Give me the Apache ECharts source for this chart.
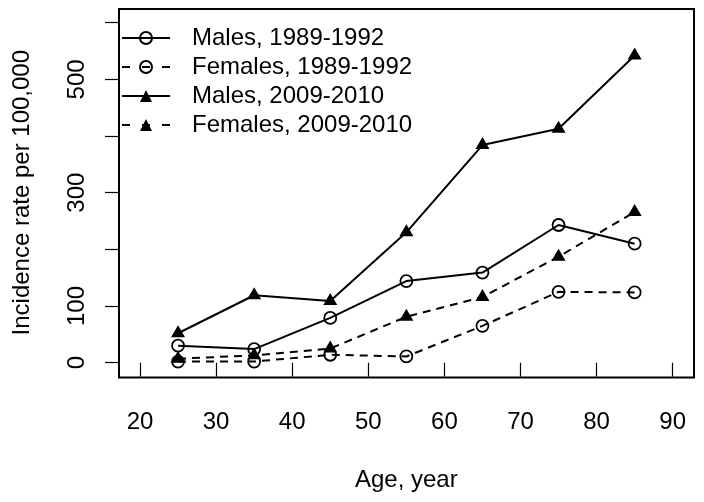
<!DOCTYPE html>
<html>
<head>
<meta charset="utf-8">
<script src="https://cdn.jsdelivr.net/npm/echarts@6/dist/echarts.min.js"></script>
<style>
html,body{margin:0;padding:0;background:#fff;}
#chart{width:704px;height:502px;}
</style>
</head>
<body>
<div id="chart"></div>
<script>
const ages = [25, 35, 45, 55, 65, 75, 85];
const males1989 = [30, 24, 79, 144, 159, 243, 210];
const females1989 = [2, 2, 14, 11, 65, 125, 124];
const males2009 = [52, 119, 109, 230, 384, 413, 542];
const females2009 = [7, 13, 25, 81, 116, 187, 266];
const seriesNames = ['Males, 1989-1992', 'Females, 1989-1992', 'Males, 2009-2010', 'Females, 2009-2010'];
const xTicks = [20, 30, 40, 50, 60, 70, 80, 90];
const yLabels = [0, 100, 300, 500];

const FONT = '"Liberation Sans", Arial, Helvetica, sans-serif';
const pairs = arr => ages.map((a, i) => [a, arr[i]]);

function mkSeries(name, values, isTriangle, dashed) {
  return {
    name: name,
    type: 'line',
    xAxisIndex: 0,
    yAxisIndex: 0,
    data: pairs(values),
    clip: false,
    symbol: isTriangle ? 'triangle' : 'circle',
    symbolSize: isTriangle ? [14, 12] : 12,
    symbolOffset: isTriangle ? [0, -2] : [0, 0],
    lineStyle: { color: '#000', width: 2, type: dashed ? [8, 6] : 'solid' },
    itemStyle: isTriangle
      ? { color: '#000', borderWidth: 0 }
      : { color: 'transparent', borderColor: '#000', borderWidth: 1.8 },
    emphasis: { disabled: true },
    animation: false
  };
}

const legendItem = (name, dashed) => ({
  name: name,
  lineStyle: { color: '#000', width: 2, type: dashed ? [8, 12] : 'solid' }
});

const chart = echarts.init(document.getElementById('chart'), null, { renderer: 'canvas' });
chart.setOption({
  backgroundColor: '#fff',
  animation: false,
  textStyle: { fontFamily: FONT, color: '#000' },
  grid: [
    { left: 140, right: 31.3, top: 22.7, bottom: 139.3, containLabel: false },
    { left: 119, right: 10, top: 9, bottom: 124.5, show: true, borderColor: '#000', borderWidth: 2, backgroundColor: 'transparent', z: 10 }
  ],
  legend: {
    orient: 'vertical',
    left: 116,
    top: 21,
    itemWidth: 48,
    itemHeight: 15,
    itemGap: 5,
    data: [
      legendItem(seriesNames[0], false),
      legendItem(seriesNames[1], true),
      legendItem(seriesNames[2], false),
      legendItem(seriesNames[3], true)
    ],
    textStyle: { fontFamily: FONT, fontSize: 24, color: '#000', padding: [0, 0, 0, 17] },
    selectedMode: false
  },
  xAxis: [
    {
      type: 'value', gridIndex: 0, min: 20, max: 90, interval: 10, offset: 14.8,
      axisLine: { show: false },
      axisTick: { show: true, length: 14, lineStyle: { color: '#000', width: 1.2 } },
      axisLabel: { fontSize: 24, color: '#000', fontFamily: FONT, margin: 33,
        formatter: v => xTicks.includes(v) ? String(v) : '' },
      splitLine: { show: false },
      name: 'Age, year', nameLocation: 'middle', nameGap: 91,
      nameTextStyle: { fontSize: 24, color: '#000', fontFamily: FONT }
    },
    { type: 'value', gridIndex: 1, show: false, min: 0, max: 1 }
  ],
  yAxis: [
    {
      type: 'value', gridIndex: 0, min: 0, max: 600, interval: 100, offset: 21,
      axisLine: { show: false },
      axisTick: { show: true, length: 14, lineStyle: { color: '#000', width: 1.2 } },
      axisLabel: { fontSize: 24, color: '#000', fontFamily: FONT, rotate: 90, margin: 30,
        formatter: v => yLabels.includes(v) ? String(v) : '' },
      splitLine: { show: false },
      name: 'Incidence rate per 100,000', nameLocation: 'middle', nameGap: 85,
      nameTextStyle: { fontSize: 24, color: '#000', fontFamily: FONT }
    },
    { type: 'value', gridIndex: 1, show: false, min: 0, max: 1 }
  ],
  series: [
    mkSeries(seriesNames[0], males1989, false, false),
    mkSeries(seriesNames[1], females1989, false, true),
    mkSeries(seriesNames[2], males2009, true, false),
    mkSeries(seriesNames[3], females2009, true, true)
  ]
});
</script>
</body>
</html>
